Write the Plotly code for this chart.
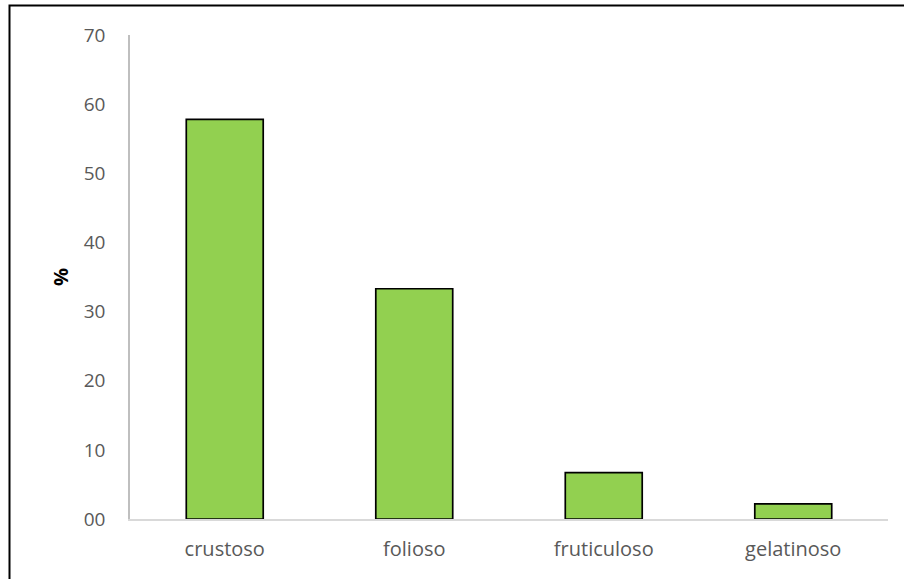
import plotly.graph_objects as go

categories = ["crustoso", "folioso", "fruticuloso", "gelatinoso"]
values = [57.8, 33.3, 6.7, 2.2]
y_tickvals = [0, 10, 20, 30, 40, 50, 60, 70]
y_ticktext = ["00", "10", "20", "30", "40", "50", "60", "70"]

W, H = 904, 579
ml, mr, mt, mb = 130, 16, 35, 60
pw, ph = W - ml - mr, H - mt - mb

fig = go.Figure(go.Bar(
    x=categories, y=values,
    marker=dict(color="#92D050", line=dict(color="#000000", width=1.7)),
))

fig.update_layout(
    width=W, height=H,
    margin=dict(l=ml, r=mr, t=mt, b=mb, pad=0),
    paper_bgcolor="white", plot_bgcolor="white",
    bargap=0.594,
    showlegend=False,
    font=dict(family="Open Sans, Liberation Sans, sans-serif", color="#595959", size=19),
)
fig.update_yaxes(
    range=[0, 70], tickvals=y_tickvals, ticktext=y_ticktext,
    showgrid=False, zeroline=False, showline=True, linecolor="#BFBFBF", linewidth=1.5,
    ticks="", ticklabelstandoff=19, tickfont=dict(size=19, color="#595959"),
    title=dict(text="<b>%</b>", font=dict(size=20, color="#000000"), standoff=10),
)
fig.update_xaxes(
    showgrid=False, showline=True, linecolor="#D9D9D9", linewidth=1.5,
    ticks="", ticklabelstandoff=11, tickfont=dict(size=20, color="#595959"),
)
# outer frame border (top & left visible, extends past right/bottom)
fig.add_shape(
    type="rect", xref="paper", yref="paper",
    x0=(9.5 - ml) / pw, x1=(W + 10 - ml) / pw,
    y0=(H - mb - (H + 10)) / ph, y1=(H - mb - 5.5) / ph,
    line=dict(color="#000000", width=2), fillcolor="rgba(0,0,0,0)", layer="above",
)
fig.write_html(
    "out.html",
    config={"displayModeBar": False},
    post_script="document.body.style.margin='0';document.body.style.overflow='hidden';",
)
